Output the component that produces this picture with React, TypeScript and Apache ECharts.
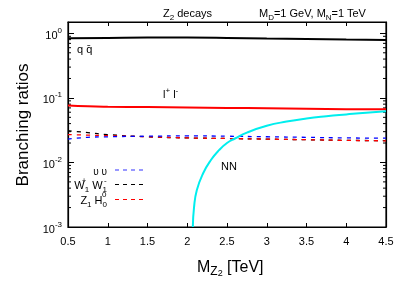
import React, { useEffect, useRef } from "react";
import * as echarts from "echarts";

const qqX = [0.5, 1, 1.5, 2, 2.5, 3, 3.5, 4, 4.5];
const qqY = [0.84, 0.85, 0.86, 0.86, 0.85, 0.83, 0.82, 0.80, 0.79];
const llX = [0.5, 0.75, 1, 1.5, 2, 2.5, 3, 3.5, 4, 4.5];
const llY = [0.076, 0.074, 0.073, 0.072, 0.071, 0.070, 0.069, 0.068, 0.067, 0.0665];
const nnX = [2.07, 2.085, 2.12, 2.2, 2.3, 2.4, 2.5, 2.6, 2.75, 3, 3.25, 3.5, 3.75, 4, 4.25, 4.5];
const nnY = [0.001, 0.002, 0.0037, 0.0068, 0.011, 0.0155, 0.02, 0.0235, 0.029, 0.037, 0.043, 0.048, 0.052, 0.0555, 0.059, 0.062];
const dashX = [0.5, 0.75, 1, 1.5, 2, 2.5, 3, 3.5, 4, 4.5];
const nuY = [0.023, 0.0245, 0.025, 0.0255, 0.0258, 0.0255, 0.025, 0.0245, 0.024, 0.0238];
const wwY = [0.031, 0.029, 0.027, 0.025, 0.024, 0.0235, 0.023, 0.0225, 0.022, 0.0218];
const zhY = [0.027, 0.0265, 0.026, 0.025, 0.024, 0.0235, 0.023, 0.0225, 0.022, 0.0216];
const minorTicks = [
  0.002, 0.003, 0.004, 0.005, 0.006, 0.007, 0.008, 0.009,
  0.02, 0.03, 0.04, 0.05, 0.06, 0.07, 0.08, 0.09,
  0.2, 0.3, 0.4, 0.5, 0.6, 0.7, 0.8, 0.9,
];

const FONT = "'Liberation Sans', Arial, sans-serif";
const zip = (xs: number[], ys: number[]) => xs.map((x, i) => [x, ys[i]]);

export default function App() {
  const ref = useRef<HTMLDivElement>(null);
  useEffect(() => {
    if (!ref.current) return;
    const chart = echarts.init(ref.current, undefined, { renderer: "svg" });
    const lbl = (text: string, x: number, y: number, rich?: any, extra?: any) => ({
      type: "text",
      x,
      y,
      style: { text, fontFamily: FONT, fontSize: 11, fill: "#000", verticalAlign: "middle", rich, ...extra },
    });
    const subsup = {
      b: { fontSize: 11, fontFamily: FONT, lineHeight: 16, verticalAlign: "middle" },
      sub: { fontSize: 8, fontFamily: FONT, lineHeight: 16, verticalAlign: "bottom", padding: [6, 0, 0, 0] },
      sup: { fontSize: 8, fontFamily: FONT, lineHeight: 16, verticalAlign: "top", padding: [0, 0, 6, 0] },
    };
    const dashLine = (y: number, color: string) => ({
      type: "line",
      shape: { x1: 115, y1: y, x2: 146, y2: y },
      style: { stroke: color, lineWidth: 1.2, lineDash: [4, 4] },
    });
    const boxAxisX = {
      axisLine: { show: true, onZero: false, lineStyle: { color: "#000", width: 1.2 } },
      axisTick: { show: true, inside: true, length: 4, lineStyle: { color: "#000" } },
      splitLine: { show: false },
    };
    chart.setOption({
      animation: false,
      grid: { left: 68, right: 21, top: 22, bottom: 57, show: true, borderColor: "#000", borderWidth: 1.2, backgroundColor: "transparent" },
      xAxis: [
        {
          type: "value", position: "bottom", min: 0.5, max: 4.5, interval: 0.5, ...boxAxisX,
          axisLabel: { color: "#000", fontFamily: FONT, fontSize: 11, margin: 8 },
        },
        {
          type: "value", position: "top", min: 0.5, max: 4.5, interval: 0.5, ...boxAxisX,
          axisLabel: { show: false },
        },
      ],
      yAxis: [
        {
          type: "log", position: "left", min: 0.001, max: 1.5, logBase: 10,
          axisLine: { show: true, onZero: false, lineStyle: { color: "#000", width: 1.2 } },
          axisTick: { show: true, inside: true, length: 6, lineStyle: { color: "#000" } },
          axisLabel: {
            color: "#000", fontFamily: FONT, margin: 6,
            formatter: (v: number) => {
              const e = Math.log10(v);
              if (Math.abs(e - Math.round(e)) > 1e-6) return "";
              return "{b|10}{s|" + Math.round(e) + "}";
            },
            rich: {
              b: { fontSize: 11, fontFamily: FONT, color: "#000", lineHeight: 14, verticalAlign: "bottom" },
              s: { fontSize: 8, fontFamily: FONT, color: "#000", lineHeight: 14, verticalAlign: "top", padding: [0, 0, 6, 0] },
            },
          },
          splitLine: { show: false },
        },
        {
          type: "log", position: "right", min: 0.001, max: 1.5, logBase: 10,
          axisLine: { show: true, onZero: false, lineStyle: { color: "#000", width: 1.2 } },
          axisTick: { show: true, inside: true, length: 6, lineStyle: { color: "#000" } },
          axisLabel: { show: false },
          splitLine: { show: false },
        },
      ],
      series: [
        {
          type: "custom",
          xAxisIndex: 1, yAxisIndex: 1,
          data: minorTicks.map((v) => [0.5, v]),
          renderItem: (params: any, api: any) => {
            const v = api.value(1);
            const l = api.coord([0.5, v]);
            const r = api.coord([4.5, v]);
            return {
              type: "group",
              children: [
                { type: "line", shape: { x1: l[0], y1: l[1], x2: l[0] + 3, y2: l[1] }, style: { stroke: "#000", lineWidth: 1 } },
                { type: "line", shape: { x1: r[0], y1: r[1], x2: r[0] - 3, y2: r[1] }, style: { stroke: "#000", lineWidth: 1 } },
              ],
            };
          },
          silent: true,
        },
        { type: "line", data: zip(qqX, qqY), smooth: true, showSymbol: false, lineStyle: { color: "#000", width: 2 } },
        { type: "line", data: zip(llX, llY), smooth: true, showSymbol: false, lineStyle: { color: "#ff0000", width: 2 } },
        { type: "line", data: zip(dashX, wwY), smooth: true, showSymbol: false, lineStyle: { color: "#000", width: 1.3, type: [4, 5] } },
        { type: "line", data: zip(dashX, zhY), smooth: true, showSymbol: false, lineStyle: { color: "#ff0000", width: 1.3, type: [4, 5] } },
        { type: "line", data: zip(dashX, nuY), smooth: true, showSymbol: false, lineStyle: { color: "#0000ff", width: 1.3, type: [4, 5] } },
        { type: "line", data: zip(nnX, nnY), smooth: true, showSymbol: false, lineStyle: { color: "#00eeee", width: 2 } },
      ],
      graphic: [
        {
          type: "text", x: 22, y: 125, rotation: Math.PI / 2,
          style: { text: "Branching ratios", fontFamily: FONT, fontSize: 17, fill: "#000", align: "center", verticalAlign: "middle" },
        },
        lbl("{b|M}{sub|Z}{ss|2}{b| [TeV]}", 197, 266, {
          b: { fontSize: 16, fontFamily: FONT, lineHeight: 22, verticalAlign: "middle" },
          sub: { fontSize: 12, fontFamily: FONT, lineHeight: 22, verticalAlign: "bottom", padding: [8, 0, 0, 0] },
          ss: { fontSize: 9, fontFamily: FONT, lineHeight: 22, verticalAlign: "bottom", padding: [12, 0, 0, 0] },
        }),
        lbl("{b|Z}{sub|2}{b| decays}", 163, 13, subsup),
        lbl("{b|M}{sub|D}{b|=1 GeV, M}{sub|N}{b|=1 TeV}", 259, 13, subsup),
        lbl("q q\u0304", 77, 49),
        lbl("{b|l}{sup|+}{b| l}{sup|-}", 163, 94, subsup),
        lbl("NN", 221, 165.5),
        lbl("\u03c5 \u03c5", 107, 171, undefined, { align: "right", fontSize: 10 }),
        lbl("{b|W}{sub|1}{b| W}{sub|1}", 107, 185, subsup, { align: "right" }),
        lbl("+", 82, 180, undefined, { fontSize: 7 }),
        lbl("-", 104, 180, undefined, { fontSize: 8 }),
        lbl("{b|Z}{sub|1}{b| H}{sub|0}", 107, 200, subsup, { align: "right" }),
        lbl("0", 102, 194, undefined, { fontSize: 8 }),
        dashLine(170, "#3333ff"),
        dashLine(184.5, "#000"),
        dashLine(199.5, "#ff0000"),
      ],
    });
    return () => chart.dispose();
  }, []);
  return <div ref={ref} style={{ position: "fixed", left: 0, top: 0, width: 407, height: 284 }} />;
}
